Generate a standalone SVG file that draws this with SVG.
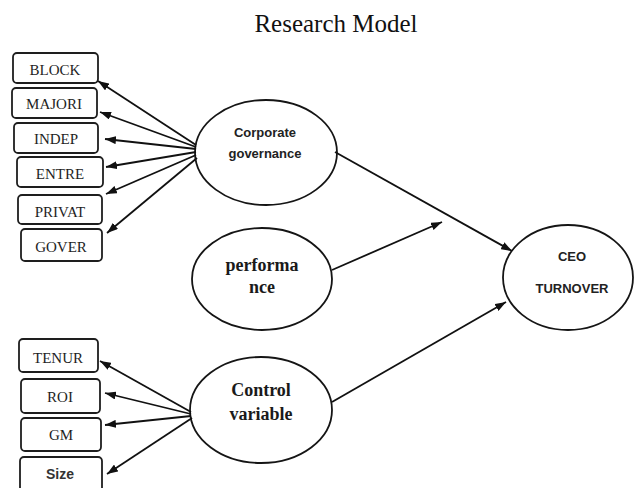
<svg xmlns="http://www.w3.org/2000/svg" width="635" height="488" viewBox="0 0 635 488">
<defs>
<marker id="ah" viewBox="0 0 11 8" refX="11" refY="4" markerWidth="11" markerHeight="8" markerUnits="userSpaceOnUse" orient="auto">
<path d="M0,0 L11,4 L0,8 Z" fill="#111"/>
</marker>
<style>
.box{fill:#fff;stroke:#1e1e1e;stroke-width:1.8}
.ell{fill:#fff;stroke:#151515;stroke-width:1.8}
.bt{font-family:"Liberation Serif","Times New Roman",serif;font-size:15px;fill:#1e1e1e;text-anchor:middle}
.st{font-family:"Liberation Sans",Arial,sans-serif;font-size:14px;font-weight:bold;fill:#333;text-anchor:middle}
.et{font-family:"Liberation Sans",Arial,sans-serif;font-size:13px;font-weight:bold;fill:#222;text-anchor:middle}
.tt{font-family:"Liberation Serif","Times New Roman",serif;font-size:18px;font-weight:bold;fill:#1a1a1a;text-anchor:middle}
.con line{stroke:#111;stroke-width:1.8;marker-end:url(#ah)}
</style>
</defs>
<rect width="635" height="488" fill="#fff"/>
<text x="336" y="32" font-family="Liberation Serif, Times New Roman, serif" font-size="25" fill="#111" text-anchor="middle">Research Model</text>

<g id="block"><rect class="box" x="13" y="53" width="85" height="30" rx="4"/><text class="bt" x="55" y="74.5">BLOCK</text></g>
<g id="majori"><rect class="box" x="12" y="88" width="85" height="30" rx="4"/><text class="bt" x="54" y="109">MAJORI</text></g>
<g id="indep"><rect class="box" x="14" y="123" width="84" height="30" rx="4"/><text class="bt" x="56" y="144">INDEP</text></g>
<g id="entre"><rect class="box" x="17" y="157" width="86" height="30" rx="4"/><text class="bt" x="60" y="179">ENTRE</text></g>
<g id="privat"><rect class="box" x="18" y="195" width="84" height="29" rx="4"/><text class="bt" x="60" y="216.5">PRIVAT</text></g>
<g id="gover"><rect class="box" x="21" y="229" width="81" height="32" rx="4"/><text class="bt" x="61" y="252">GOVER</text></g>

<g id="tenur"><rect class="box" x="19" y="339" width="79" height="33" rx="4"/><text class="bt" x="58" y="362.5">TENUR</text></g>
<g id="roi"><rect class="box" x="21" y="379" width="79" height="34" rx="4"/><text class="bt" x="60" y="402">ROI</text></g>
<g id="gm"><rect class="box" x="21" y="418" width="80" height="33" rx="4"/><text class="bt" x="61" y="440">GM</text></g>
<g id="size"><rect class="box" x="20" y="457" width="82" height="36" rx="4"/><text class="st" x="60" y="479">Size</text></g>

<g id="corporate-governance"><ellipse class="ell" cx="266" cy="152.5" rx="71" ry="52.5"/>
<text class="et" x="265" y="137">Corporate</text><text class="et" x="265" y="158">governance</text></g>
<g id="performance"><ellipse class="ell" cx="262" cy="279" rx="70" ry="51"/>
<text class="tt" x="262" y="271">performa</text><text class="tt" x="262" y="293">nce</text></g>
<g id="control-variable"><ellipse class="ell" cx="261" cy="410" rx="71" ry="53"/>
<text class="tt" x="261" y="396">Control</text><text class="tt" x="261" y="420">variable</text></g>
<g id="ceo-turnover"><ellipse class="ell" cx="568" cy="277.5" rx="65" ry="52.5"/>
<text class="et" x="572" y="261">CEO</text><text class="et" x="572" y="293">TURNOVER</text></g>

<g id="connectors" class="con">
<line x1="196" y1="145" x2="98" y2="81"/>
<line x1="196" y1="147" x2="100" y2="112"/>
<line x1="196" y1="149" x2="105" y2="139"/>
<line x1="196" y1="152" x2="106" y2="167"/>
<line x1="196" y1="155" x2="106" y2="194"/>
<line x1="197" y1="158" x2="107" y2="233"/>
<line x1="191" y1="412" x2="100" y2="361"/>
<line x1="191" y1="414" x2="105" y2="393"/>
<line x1="191" y1="416" x2="105" y2="425"/>
<line x1="192" y1="418" x2="107" y2="474"/>
<line x1="335" y1="152" x2="512" y2="251"/>
<line x1="332" y1="270" x2="442" y2="222"/>
<line x1="332" y1="402" x2="506" y2="302"/>
</g>
</svg>
